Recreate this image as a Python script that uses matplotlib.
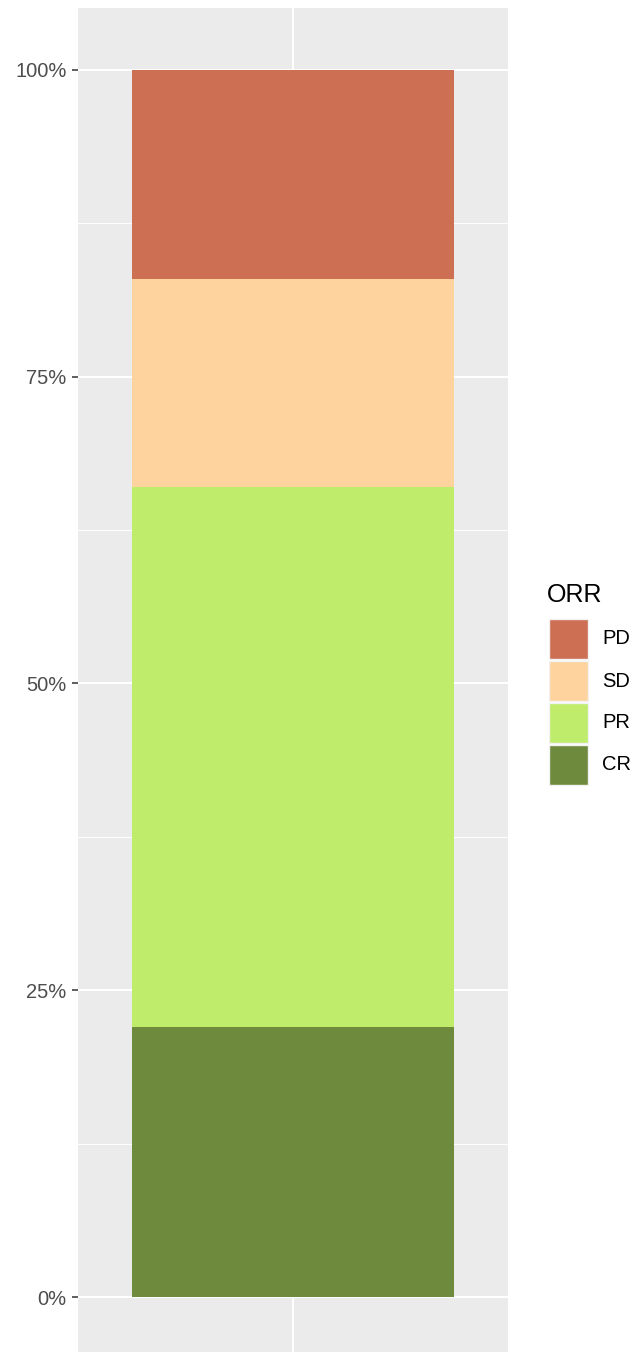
import numpy as np
import matplotlib.pyplot as plt
from matplotlib.patches import Rectangle

plt.rcParams['font.family'] = ['Liberation Sans', 'DejaVu Sans']

# data
categories = ['CR', 'PR', 'SD', 'PD']
shares = [0.22, 0.44, 0.17, 0.17]
colors = ['#6E8A3D', '#BFEC6A', '#FED39E', '#CD6F53']
ticks = [0, 0.25, 0.5, 0.75, 1.0]
tick_labels = ['0%', '25%', '50%', '75%', '100%']

W, H = 636, 1352
fig = plt.figure(figsize=(W / 100, H / 100), dpi=100)
ax = fig.add_axes([78 / W, 0, 430 / W, (H - 8) / H])
ax.set_facecolor('#EBEBEB')

bottom = 0
for cat, s, c in zip(categories, shares, colors):
    ax.bar(1, s, width=0.9, bottom=bottom, color=c, zorder=3)
    bottom += s

ax.set_xlim(0.4, 1.6)
ax.set_ylim(-0.0448, 1.0505)
ax.set_yticks(ticks)
ax.set_yticklabels(tick_labels, fontsize=14.5, color='#4D4D4D')
ax.set_yticks([0.125, 0.375, 0.625, 0.875], minor=True)
ax.set_xticks([1])
ax.set_xticklabels([''])
ax.tick_params(axis='y', which='major', length=4.3, width=1.1, color='#333333', pad=4)
ax.tick_params(axis='y', which='minor', length=0)
ax.tick_params(axis='x', length=0)
ax.grid(True, which='major', color='white', linewidth=1.5, zorder=0)
ax.grid(True, which='minor', axis='y', color='white', linewidth=0.7, zorder=0)
ax.set_axisbelow(True)
for sp in ax.spines.values():
    sp.set_visible(False)

# legend
fig.text(547 / W, 1 - 595 / H, 'ORR', fontsize=18, va='center', ha='left')
key_top = 619
for i, (cat, c) in enumerate(zip(categories[::-1], colors[::-1])):
    y0 = key_top + i * 42
    fig.add_artist(Rectangle((549 / W, 1 - (y0 + 40) / H), 39 / W, 40 / H,
                             transform=fig.transFigure, facecolor=c,
                             edgecolor='#F2F2F2', linewidth=1))
    fig.text(602 / W, 1 - (y0 + 20) / H, cat, fontsize=14.5, va='center', ha='left')

fig.savefig('out.png', dpi=100)
